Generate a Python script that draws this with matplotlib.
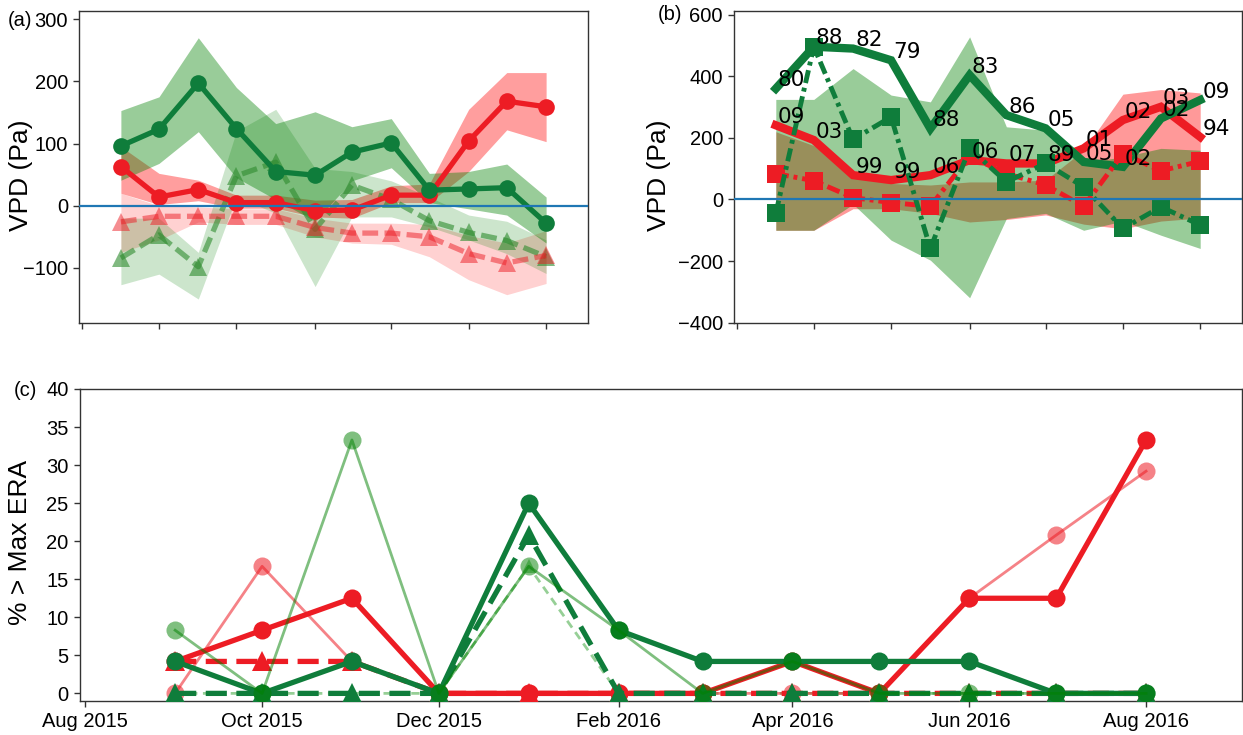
import matplotlib
matplotlib.use('Agg')
import matplotlib.pyplot as plt
import matplotlib.dates as mdates
import pandas as pd

plt.rcParams['font.family'] = ['Liberation Sans', 'DejaVu Sans']

# ---------------- data ----------------
months = pd.date_range('2015-09-01', periods=12, freq='MS')

# panel (a)
a_green_c = [96, 123, 197, 124, 55, 49, 86, 101, 25, 27, 29, -28]
a_green_c_hi = [153, 175, 270, 190, 132, 151, 127, 140, 52, 55, 67, 14]
a_green_c_lo = [41, 68, 119, 45, 10, -25, 40, 61, 5, -5, -15, -60]
a_red_c = [63, 14, 26, 5, 5, -8, -7, 17, 17, 104, 168, 159]
a_red_c_hi = [95, 52, 41, 17, 17, 9, 10, 32, 35, 155, 214, 214]
a_red_c_lo = [20, 2, 8, -4, -4, -18, -20, 5, 5, 55, 122, 103]
a_red_t = [-26, -17, -17, -17, -17, -35, -44, -44, -50, -77, -92, -80]
a_red_t_hi = [20, 0, -2, -5, -5, -20, -28, -28, -30, -48, -60, -40]
a_red_t_lo = [-75, -55, -26, -30, -30, -50, -60, -62, -82, -119, -143, -125]
a_green_t = [-84, -47, -98, 48, 70, -38, 33, 10, -24, -43, -56, -82]
a_green_t_hi = [-20, -20, -75, 120, 155, 60, 55, 40, 14, -15, -25, -55]
a_green_t_lo = [-127, -110, -150, 14, -12, -130, -18, -18, -34, -55, -77, -109]

# panel (b)
b_green_line = [360, 496, 490, 452, 230, 404, 274, 231, 122, 106, 263, 323]
b_red_line = [241, 193, 79, 63, 79, 128, 117, 117, 166, 258, 301, 203]
b_green_sq = [-45, 496, 195, 268, -159, 166, 57, 117, 41, -94, -24, -83]
b_red_sq = [84, 61, 6, -10, -22, 140, 84, 47, -22, 149, 93, 124]
b_green_hi = [325, 325, 425, 339, 317, 528, 236, 225, 120, 138, 166, 160]
b_green_lo = [-100, -100, -15, -132, -197, -319, -62, -45, -100, -70, -116, -159]
b_red_hi = [220, 175, 84, 52, 47, 57, 57, 63, 160, 342, 357, 346]
b_red_lo = [-100, -100, -30, -30, -45, -73, -65, -50, -80, -95, -70, -60]
b_green_labels = ['80', '88', '82', '79', '88', '83', '86', '05', '05', '02', '02', '09']
b_red_labels = ['09', '03', '99', '99', '06', '06', '07', '89', '01', '02', '03', '94']

# panel (c)
c_red = [4.2, 8.3, 12.5, 0, 0, 0, 0, 4.2, 0, 12.5, 12.5, 33.3]
c_red_light = [0, 16.7, 4.2, 0, 0, 0, 0, 0, 0, 12.5, 20.8, 29.2]
c_red_tri = [4.2, 4.2, 4.2, 0, 0, 0, 0, 0, 0, 0, 0, 0]
c_green = [4.2, 0, 4.2, 0, 25, 8.3, 4.2, 4.2, 4.2, 4.2, 0, 0]
c_green_light = [8.3, 0, 33.3, 0, 16.7, 8.3, 0, 4.2, 0, 0, 0, 0]
c_green_tri = [0, 0, 0, 0, 20.8, 0, 0, 0, 0, 0, 0, 0]
c_green_tri_light = [0, 0, 0, 0, 16.7, 0, 0, 0, 0, 0, 0, 0]

RED = '#ed1c24'
DGREEN = '#0f7d3b'
FILLG = 'green'
FILLR = 'red'
BLUE = '#1f77b4'

W, H = 1243, 735
fig = plt.figure(figsize=(W / 100, H / 100), dpi=100)


def rect(x0, y0, x1, y1):
    return [x0 / W, 1 - y1 / H, (x1 - x0) / W, (y1 - y0) / H]


axc = fig.add_axes(rect(79.5, 389, 1241.7, 701))
axa = fig.add_axes(rect(79, 11, 588, 323.3), sharex=axc)
axb = fig.add_axes(rect(734, 11, 1242, 323), sharex=axc)

TICK_FS = 14.5
LABEL_FS = 19

for ax in (axa, axb, axc):
    for s in ax.spines.values():
        s.set_color('#333333')
        s.set_linewidth(1.0)
    ax.tick_params(labelsize=TICK_FS, color='#333333', length=4.5, width=1.0)

# ---------------- panel (a) ----------------
ax = axa
ax.fill_between(months, a_red_t_lo, a_red_t_hi, color=FILLR, alpha=0.18, lw=0)
ax.fill_between(months, a_red_c_lo, a_red_c_hi, color=FILLR, alpha=0.38, lw=0)
ax.fill_between(months, a_green_t_lo, a_green_t_hi, color=FILLG, alpha=0.2, lw=0)
ax.fill_between(months, a_green_c_lo, a_green_c_hi, color=FILLG, alpha=0.4, lw=0)
ax.plot(months, a_green_t, color='#2e8b2e', alpha=0.6, lw=3.8, dashes=(3, 1.2),
        marker='^', ms=13, mew=0)
ax.plot(months, a_red_t, color=RED, alpha=0.5, lw=3.8, dashes=(3, 1.2),
        marker='^', ms=13, mew=0)
ax.plot(months, a_red_c, color=RED, lw=3.8, marker='o', ms=12, mew=0)
ax.plot(months, a_green_c, color=DGREEN, lw=3.8, marker='o', ms=12, mew=0)
ax.axhline(0, color=BLUE, lw=1.6, zorder=10)
ax.set_ylim(-189, 313)
ax.set_yticks([-100, 0, 100, 200, 300])
ax.tick_params(labelbottom=False)

# ---------------- panel (b) ----------------
ax = axb
ax.fill_between(months, b_red_lo, b_red_hi, color=FILLR, alpha=0.4, lw=0)
ax.fill_between(months, b_green_lo, b_green_hi, color=FILLG, alpha=0.4, lw=0)
ax.plot(months, b_red_line, color=RED, lw=6, solid_joinstyle='miter')
ax.plot(months, b_green_line, color=DGREEN, lw=6, solid_joinstyle='miter')
ax.plot(months, b_red_sq, color=RED, lw=3.5, dashes=(2.7, 1, 0.8, 1),
        marker='s', ms=12.5, mew=0)
ax.plot(months, b_green_sq, color=DGREEN, lw=3.5, dashes=(2.7, 1, 0.8, 1),
        marker='s', ms=12.5, mew=0)
ax.axhline(0, color=BLUE, lw=1.6, zorder=10)
for xv, yv, lab in zip(months, b_green_line, b_green_labels):
    ax.annotate(lab, (xv, yv), xytext=(1.5, 6), textcoords='offset points',
                ha='left', va='center', fontsize=15.5, family='DejaVu Sans', zorder=12)
for xv, yv, lab in zip(months, b_red_line, b_red_labels):
    ax.annotate(lab, (xv, yv), xytext=(1.5, 6), textcoords='offset points',
                ha='left', va='center', fontsize=15.5, family='DejaVu Sans', zorder=12)
ax.set_ylim(-401, 612)
ax.set_yticks([-400, -200, 0, 200, 400, 600])
ax.tick_params(labelbottom=False)

# ---------------- panel (c) ----------------
ax = axc
ax.plot(months, c_green_tri_light, color='#7cc47c', lw=2, dashes=(3, 2),
        marker='^', ms=10, mew=0, alpha=0.8, zorder=2)
ax.plot(months, c_red, color=RED, lw=3.8, marker='o', ms=13, mew=0, zorder=3)
ax.plot(months, c_red_tri, color=RED, lw=3.8, dashes=(4, 1.8),
        marker='^', ms=14, mew=0, zorder=3)
ax.plot(months, c_red_light, color=RED, alpha=0.55, lw=2, marker='o', ms=13,
        mew=0, zorder=4)
ax.plot(months, c_green, color=DGREEN, lw=3.8, marker='o', ms=13, mew=0, zorder=5)
ax.plot(months, c_green_tri, color=DGREEN, lw=3.8, dashes=(4, 1.8),
        marker='^', ms=14, mew=0, zorder=5)
ax.plot(months, c_green_light, color='green', alpha=0.5, lw=2, marker='o', ms=13,
        mew=0, zorder=6)
ax.set_ylim(-1, 40)
ax.set_yticks(range(0, 41, 5))
ax.set_xlim(pd.Timestamp('2015-07-30'), pd.Timestamp('2016-09-03'))
ax.xaxis.set_major_locator(mdates.MonthLocator(bymonth=[2, 4, 6, 8, 10, 12]))
ax.xaxis.set_major_formatter(mdates.DateFormatter('%b %Y'))

# ---------------- text ----------------
fig.text(8 / W, 1 - 20 / H, '(a)', fontsize=TICK_FS, ha='left', va='center')
fig.text(658 / W, 1 - 15 / H, '(b)', fontsize=TICK_FS, ha='left', va='center')
fig.text(14 / W, 1 - 390 / H, '(c)', fontsize=TICK_FS, ha='left', va='center')
fig.text(21 / W, 1 - 175 / H, 'VPD (Pa)', fontsize=LABEL_FS, rotation=90,
         ha='center', va='center')
fig.text(659 / W, 1 - 175 / H, 'VPD (Pa)', fontsize=LABEL_FS, rotation=90,
         ha='center', va='center')
fig.text(20 / W, 1 - 542 / H, '% > Max ERA', fontsize=LABEL_FS, rotation=90,
         ha='center', va='center')

fig.savefig('out.png', dpi=100)
